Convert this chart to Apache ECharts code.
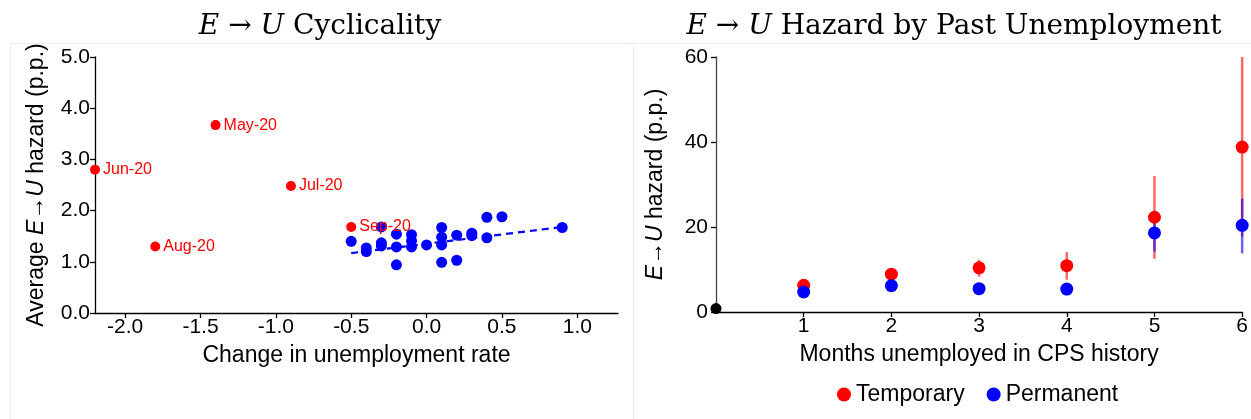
<!DOCTYPE html>
<html>
<head>
<meta charset="utf-8">
<script src="https://cdn.jsdelivr.net/npm/echarts@6/dist/echarts.min.js"></script>
<style>
  html, body { margin: 0; padding: 0; background: #fff; }
  #chart { width: 1251px; height: 419px; }
</style>
</head>
<body>
<div id="chart"></div>
<script>
// left panel: change in unemployment rate vs average E->U hazard
var covidMonths = ['May-20', 'Jun-20', 'Jul-20', 'Aug-20', 'Sep-20']
var covidChange = [-1.4, -2.2, -0.9, -1.8, -0.5]
var covidHazard = [3.67, 2.8, 2.48, 1.3, 1.68]

var normalChange = [-0.5, -0.4, -0.4, -0.3, -0.3, -0.3, -0.2, -0.2, -0.2, -0.1, -0.1, -0.1,
  0.0, 0.1, 0.1, 0.1, 0.1, 0.2, 0.2, 0.3, 0.3, 0.4, 0.4, 0.5, 0.9]
var normalHazard = [1.40, 1.27, 1.20, 1.68, 1.37, 1.31, 1.54, 1.29, 0.94, 1.53, 1.41, 1.29,
  1.33, 1.67, 1.48, 1.33, 0.99, 1.52, 1.03, 1.56, 1.51, 1.87, 1.47, 1.88, 1.67]

var fitX = [-0.5, 0.9]
var fitY = [1.17, 1.68]

var xTicksLeft = [-2.0, -1.5, -1.0, -0.5, 0.0, 0.5, 1.0]

// right panel: hazard by months unemployed
var months = [1, 2, 3, 4, 5, 6]
var tempHazard = [6.3, 8.9, 10.4, 10.9, 22.3, 38.8]
var tempLo = [5.6, 8.0, 8.3, 7.6, 12.5, 17.7]
var tempHi = [7.0, 9.8, 12.3, 14.1, 32.0, 60.0]
var permHazard = [4.7, 6.2, 5.5, 5.4, 18.6, 20.4]
var permLo = [4.0, 5.5, 4.8, 4.7, 14.2, 13.8]
var permHi = [5.4, 6.9, 6.2, 6.1, 22.8, 26.7]
var baseline = [[0, 0.8]]

var sans = 'Liberation Sans'
var serif = 'DejaVu Serif'

function zip (a, b) {
  return a.map(function (v, i) { return [v, b[i]] })
}

function errBars (color) {
  return function (params, api) {
    var p1 = api.coord([api.value(0), api.value(1)])
    var p2 = api.coord([api.value(0), api.value(2)])
    return {
      type: 'line',
      shape: { x1: p1[0], y1: p1[1], x2: p2[0], y2: p2[1] },
      style: { stroke: color, lineWidth: 2.5 }
    }
  }
}

var titleRich = {
  i: { fontFamily: serif, fontStyle: 'italic', fontWeight: 'normal', fontSize: 28, color: '#000' },
  n: { fontFamily: serif, fontWeight: 'normal', fontSize: 28, color: '#000' }
}
var nameRich = {
  i: { fontFamily: sans, fontStyle: 'italic', fontSize: 23, color: '#000' },
  n: { fontFamily: sans, fontSize: 23, color: '#000' }
}

var axisCommon = {
  axisLine: { show: true, onZero: false, lineStyle: { color: '#000', width: 1.3 } },
  axisTick: { show: true, length: 5, lineStyle: { color: '#000', width: 1.3 } },
  splitLine: { show: false },
  axisLabel: { color: '#000', fontFamily: sans, fontSize: 21, margin: 5 }
}

var chart = echarts.init(document.getElementById('chart'))

var option = {
  animation: false,
  backgroundColor: '#fff',
  graphic: [
    { type: 'line', shape: { x1: 10, y1: 43.5, x2: 1251, y2: 43.5 }, style: { stroke: '#ececec', lineWidth: 1 } },
    { type: 'line', shape: { x1: 10.5, y1: 43, x2: 10.5, y2: 419 }, style: { stroke: '#ececec', lineWidth: 1 } },
    { type: 'line', shape: { x1: 633.5, y1: 43, x2: 633.5, y2: 419 }, style: { stroke: '#ececec', lineWidth: 1 } }
  ],
  title: [
    {
      text: '{i|E}{n| → }{i|U}{n| Cyclicality}',
      left: 315, top: 8, textAlign: 'center',
      textStyle: { fontWeight: 'normal', rich: titleRich }
    },
    {
      text: '{i|E}{n| → }{i|U}{n| Hazard by Past Unemployment}',
      left: 949, top: 8, textAlign: 'center',
      textStyle: { fontWeight: 'normal', rich: titleRich }
    }
  ],
  legend: {
    data: ['Temporary', 'Permanent'],
    left: 832, top: 378,
    icon: 'circle',
    itemWidth: 14, itemHeight: 14, itemGap: 22,
    textStyle: { fontFamily: sans, fontSize: 23, color: '#000' }
  },
  grid: [
    { left: 95, top: 57, right: 633, bottom: 106 },
    { left: 716, top: 57, right: 7, bottom: 107 }
  ],
  xAxis: [
    Object.assign({}, axisCommon, {
      gridIndex: 0, type: 'value', min: -2.2, max: 1.27,
      axisTick: Object.assign({}, axisCommon.axisTick, { customValues: xTicksLeft }),
      axisLabel: Object.assign({}, axisCommon.axisLabel, {
        customValues: xTicksLeft, margin: 4,
        formatter: function (v) { return v.toFixed(1) }
      }),
      name: 'Change in unemployment rate', nameLocation: 'middle', nameGap: 31,
      nameTextStyle: { fontFamily: sans, fontSize: 23, color: '#000' }
    }),
    Object.assign({}, axisCommon, {
      gridIndex: 1, type: 'value', min: 0, max: 6,
      axisTick: Object.assign({}, axisCommon.axisTick, { customValues: months }),
      axisLabel: Object.assign({}, axisCommon.axisLabel, { customValues: months, margin: 4 }),
      name: 'Months unemployed in CPS history', nameLocation: 'middle', nameGap: 31,
      nameTextStyle: { fontFamily: sans, fontSize: 23, color: '#000' }
    })
  ],
  yAxis: [
    Object.assign({}, axisCommon, {
      gridIndex: 0, type: 'value', min: 0, max: 5, interval: 1,
      axisLabel: Object.assign({}, axisCommon.axisLabel, {
        formatter: function (v) { return v.toFixed(1) }
      }),
      name: '{n|Average }{i|E}{n|→}{i|U}{n| hazard (p.p.)}', nameLocation: 'middle', nameGap: 47,
      nameTextStyle: { rich: nameRich }
    }),
    Object.assign({}, axisCommon, {
      gridIndex: 1, type: 'value', min: 0, max: 60, interval: 20,
      axisLine: { show: true, onZero: false, lineStyle: { color: '#444', width: 1.3 } },
      axisLabel: Object.assign({}, axisCommon.axisLabel, { margin: 8 }),
      name: '{i|E}{n|→}{i|U}{n| hazard (p.p.)}', nameLocation: 'middle', nameGap: 49,
      nameTextStyle: { rich: nameRich }
    })
  ],
  series: [
    {
      type: 'line', xAxisIndex: 0, yAxisIndex: 0,
      data: zip(fitX, fitY), symbol: 'none',
      lineStyle: { color: '#0000ff', width: 2.2, type: [7, 5] }
    },
    {
      name: 'Normal', type: 'scatter', xAxisIndex: 0, yAxisIndex: 0,
      data: zip(normalChange, normalHazard), symbolSize: 11,
      itemStyle: { color: '#0000ff', opacity: 1 }
    },
    {
      name: 'Covid', type: 'scatter', xAxisIndex: 0, yAxisIndex: 0,
      data: covidChange.map(function (x, i) {
        return { value: [x, covidHazard[i]], name: covidMonths[i] }
      }),
      symbolSize: 10, clip: false,
      itemStyle: { color: '#ff0000', opacity: 1 },
      label: {
        show: true, position: 'right', distance: 3,
        formatter: '{b}', color: '#ff0000', fontFamily: sans, fontSize: 16
      }
    },
    {
      type: 'custom', xAxisIndex: 1, yAxisIndex: 1,
      data: months.map(function (m, i) { return [m, tempLo[i], tempHi[i]] }),
      renderItem: errBars('rgba(255,0,0,0.6)'), clip: false
    },
    {
      type: 'custom', xAxisIndex: 1, yAxisIndex: 1,
      data: months.map(function (m, i) { return [m, permLo[i], permHi[i]] }),
      renderItem: errBars('rgba(0,0,255,0.6)'), clip: false
    },
    {
      name: 'Temporary', type: 'scatter', xAxisIndex: 1, yAxisIndex: 1,
      data: zip(months, tempHazard), symbolSize: 13, clip: false,
      itemStyle: { color: '#ff0000', opacity: 1 }
    },
    {
      name: 'Permanent', type: 'scatter', xAxisIndex: 1, yAxisIndex: 1,
      data: zip(months, permHazard), symbolSize: 13, clip: false,
      itemStyle: { color: '#0000ff', opacity: 1 }
    },
    {
      name: 'Baseline', type: 'scatter', xAxisIndex: 1, yAxisIndex: 1,
      data: baseline, symbolSize: 11, clip: false,
      itemStyle: { color: '#000', opacity: 1 }
    }
  ]
}

chart.setOption(option)
window.addEventListener('resize', function () { chart.resize() })
</script>
</body>
</html>
